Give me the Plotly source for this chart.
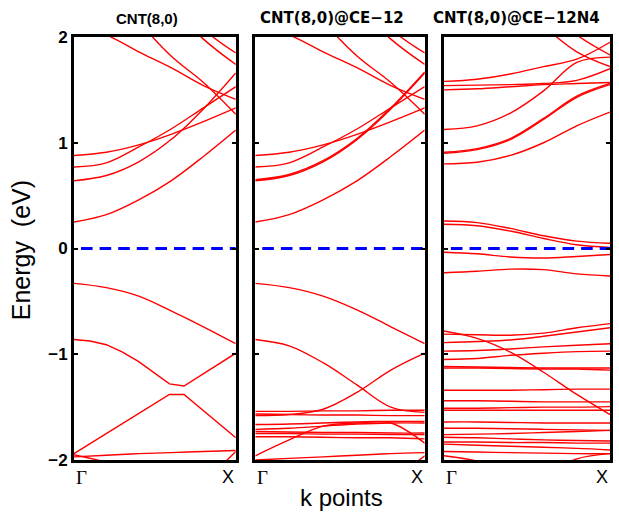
import plotly.graph_objects as go

# ---------------- data ----------------
K = [0.0, 0.2, 0.4, 0.6, 0.8, 1.0]

panel_titles = ["CNT(8,0)", "CNT(8,0)@CE\u221212", "CNT(8,0)@CE\u221212N4"]
y_tick_vals = [-2, -1, 0, 1, 2]
y_tick_text = ["\u22122", "\u22121", "0", "1", "2"]
k_labels = ["\u0393", "X"]
fermi_level = 0.0

# Panel 1: CNT(8,0)
cnt80_conduction = [
    [0.25, 0.32, 0.46, 0.64, 0.87, 1.12],
    [0.64, 0.69, 0.82, 1.03, 1.32, 1.66],
    [0.77, 0.81, 0.96, 1.13, 1.33, 1.53],
    [0.88, 0.91, 0.98, 1.08, 1.20, 1.33],
    [2.12, 2.02, 1.86, 1.71, 1.54, 1.41],
    [2.90, 2.55, 2.15, 1.82, 1.57, 1.27],
    [3.20, 2.90, 2.60, 2.30, 1.98, 1.74],
    [3.50, 3.20, 2.85, 2.50, 2.08, 1.85],
]
cnt80_valence = [
    [-0.33, -0.37, -0.45, -0.59, -0.74, -0.90],
    [-1.97, -1.955, -1.94, -1.93, -1.92, -1.91],
    [-1.95, -2.02, -2.10, -2.20, -2.30, -2.40],
    [-3.00, -2.80, -2.60, -2.40, -2.20, -1.92],
]
# anticrossing bands (sharp kinks, drawn straight)
cnt80_v2_k = [0.0, 0.1, 0.2, 0.3, 0.4, 0.5, 0.59, 0.68, 1.0]
cnt80_v2 = [-0.86, -0.875, -0.91, -0.98, -1.07, -1.18, -1.28, -1.30, -0.99]
cnt80_v3_k = [0.0, 0.59, 0.68, 1.0]
cnt80_v3 = [-1.94, -1.38, -1.38, -1.79]

# Panel 2: CNT(8,0)@CE-12
ce12_conduction = [
    [0.25, 0.32, 0.46, 0.64, 0.87, 1.12],
    [0.64, 0.69, 0.82, 1.03, 1.32, 1.66],
    [0.65, 0.70, 0.83, 1.04, 1.33, 1.67],
    [0.77, 0.81, 0.96, 1.13, 1.33, 1.53],
    [0.88, 0.91, 0.98, 1.08, 1.20, 1.33],
    [2.12, 2.02, 1.86, 1.71, 1.54, 1.41],
    [2.90, 2.55, 2.15, 1.82, 1.57, 1.27],
    [3.20, 2.90, 2.60, 2.30, 1.98, 1.74],
    [3.50, 3.20, 2.85, 2.50, 2.08, 1.85],
]
ce12_valence = [
    [-0.33, -0.37, -0.45, -0.58, -0.74, -0.90],
    [-0.86, -0.92, -1.08, -1.29, -1.50, -1.55],
    [-1.58, -1.57, -1.52, -1.36, -1.15, -0.99],
    [-1.54, -1.54, -1.535, -1.535, -1.53, -1.53],
    [-1.565, -1.57, -1.575, -1.575, -1.58, -1.58],
    [-1.665, -1.66, -1.65, -1.64, -1.635, -1.635],
    [-1.71, -1.70, -1.68, -1.66, -1.65, -1.65],
    [-1.73, -1.735, -1.74, -1.74, -1.745, -1.745],
    [-1.75, -1.75, -1.755, -1.755, -1.76, -1.76],
    [-1.78, -1.78, -1.785, -1.79, -1.79, -1.80],
    [-1.96, -1.81, -1.68, -1.65, -1.65, -1.84],
    [-2.00, -1.985, -1.97, -1.955, -1.94, -1.93],
    [-3.00, -2.80, -2.60, -2.40, -2.20, -1.96],
]

# Panel 3: CNT(8,0)@CE-12N4
ce12n4_conduction = [
    [0.26, 0.245, 0.19, 0.12, 0.07, 0.05],
    [0.23, 0.215, 0.165, 0.095, 0.035, 0.01],
    [0.80, 0.815, 0.88, 1.00, 1.16, 1.29],
    [0.90, 0.935, 1.03, 1.22, 1.43, 1.55],
    [0.91, 0.945, 1.04, 1.23, 1.44, 1.56],
    [1.125, 1.16, 1.28, 1.49, 1.76, 1.81],
    [1.50, 1.51, 1.53, 1.55, 1.56, 1.57],
    [1.54, 1.545, 1.55, 1.56, 1.59, 1.70],
    [1.58, 1.60, 1.65, 1.72, 1.79, 1.95],
    [2.85, 2.60, 2.35, 2.10, 1.86, 1.72],
    [3.20, 2.90, 2.60, 2.30, 2.02, 1.83],
]
ce12n4_valence = [
    [-0.035, -0.05, -0.08, -0.09, -0.075, -0.057],
    [-0.23, -0.215, -0.195, -0.20, -0.24, -0.26],
    [-0.81, -0.815, -0.82, -0.80, -0.75, -0.71],
    [-0.89, -0.88, -0.865, -0.83, -0.79, -0.75],
    [-0.97, -0.965, -0.95, -0.93, -0.915, -0.90],
    [-1.05, -1.04, -1.01, -0.99, -0.975, -0.97],
    [-0.78, -0.85, -0.98, -1.17, -1.38, -1.57],
    [-1.115, -1.12, -1.125, -1.13, -1.13, -1.13],
    [-1.13, -1.13, -1.135, -1.14, -1.14, -1.15],
    [-1.34, -1.34, -1.34, -1.335, -1.33, -1.33],
    [-1.44, -1.44, -1.445, -1.45, -1.45, -1.45],
    [-1.51, -1.51, -1.505, -1.50, -1.50, -1.495],
    [-1.53, -1.53, -1.53, -1.53, -1.53, -1.53],
    [-1.64, -1.64, -1.645, -1.65, -1.65, -1.65],
    [-1.70, -1.70, -1.705, -1.71, -1.715, -1.72],
    [-1.76, -1.755, -1.75, -1.74, -1.73, -1.72],
    [-1.785, -1.79, -1.80, -1.81, -1.815, -1.82],
    [-1.83, -1.83, -1.835, -1.835, -1.84, -1.84],
    [-1.85, -1.86, -1.87, -1.88, -1.89, -1.905],
    [-1.92, -1.925, -1.93, -1.935, -1.94, -1.94],
    [-1.96, -2.01, -2.10, -2.20, -2.30, -2.40],
    [-2.80, -2.60, -2.40, -2.15, -1.99, -1.94],
]

# ---------------- figure ----------------
RED = "#FF0000"
BAND_W = 1.4
fig = go.Figure()

def add_band(x, y, axis_idx, shape="spline"):
    sfx = "" if axis_idx == 1 else str(axis_idx)
    fig.add_trace(go.Scatter(
        x=x, y=y, mode="lines", xaxis="x" + sfx, yaxis="y" + sfx,
        line=dict(color=RED, width=BAND_W, shape=shape, smoothing=1.0),
        hoverinfo="skip", showlegend=False))

panels = [
    (cnt80_conduction + cnt80_valence, 1),
    (ce12_conduction + ce12_valence, 2),
    (ce12n4_conduction + ce12n4_valence, 3),
]
for bands, idx in panels:
    for b in bands:
        add_band(K, b, idx)
add_band(cnt80_v2_k, cnt80_v2, 1, shape="linear")
add_band(cnt80_v3_k, cnt80_v3, 1, shape="linear")

# Fermi level dashed line
for idx in (1, 2, 3):
    sfx = "" if idx == 1 else str(idx)
    fig.add_trace(go.Scatter(
        x=[K[0], K[-1]], y=[fermi_level, fermi_level], mode="lines",
        xaxis="x" + sfx, yaxis="y" + sfx,
        line=dict(color="#0000FF", width=3, dash="0px,7px,11.6px,0px"),
        hoverinfo="skip", showlegend=False))

L, R, T, B = 74, 6, 37, 55
W, H = 619, 515
PW = W - L - R
PH = H - T - B

def px_to_xpaper(px):
    return (px - L) / PW

def py_to_ypaper(py):
    return (H - B - py) / PH

domains = [
    [0.0, px_to_xpaper(236.7)],
    [px_to_xpaper(256.3), px_to_xpaper(426.7)],
    [px_to_xpaper(446.0), 1.0],
]

axis_common = dict(showline=True, linecolor="black", linewidth=3,
                   showgrid=False, zeroline=False)

layout = dict(
    width=W, height=H,
    margin=dict(l=L, r=R, t=T, b=B, pad=0),
    paper_bgcolor="white", plot_bgcolor="white",
    showlegend=False,
    font=dict(family="Liberation Sans", color="black"),
)
for i in range(3):
    sfx = "" if i == 0 else str(i + 1)
    layout["xaxis" + sfx] = dict(
        domain=domains[i], range=[K[0], K[-1]], anchor="y" + sfx,
        showticklabels=False, ticks="", fixedrange=True, mirror=True,
        **axis_common)
    yax = dict(
        domain=[0, 1], range=[-2, 2], anchor="x" + sfx,
        tickvals=y_tick_vals, ticks="inside", ticklen=4, tickwidth=2,
        tickcolor="black", fixedrange=True, mirror="ticks", **axis_common)
    if i == 0:
        yax.update(ticktext=y_tick_text, showticklabels=True,
                   tickfont=dict(family="Liberation Sans", size=17,
                                 color="black", weight="bold"))
    else:
        yax.update(showticklabels=False)
    layout["yaxis" + sfx] = yax

fig.update_layout(**layout)

annotations = []
title_centers = [147.0, 333.0, 519.0]
title_fonts = [dict(family="Liberation Sans", size=15, weight="bold", color="black"),
               dict(family="DejaVu Sans", size=15, weight="bold", color="black"),
               dict(family="DejaVu Sans", size=15, weight="bold", color="black")]
for i in range(3):
    annotations.append(dict(
        text=panel_titles[i], xref="paper", yref="paper",
        x=px_to_xpaper(title_centers[i]), y=py_to_ypaper(18),
        xanchor="center", yanchor="middle", showarrow=False,
        font=title_fonts[i]))
    xr = "x domain" if i == 0 else "x%d domain" % (i + 1)
    annotations.append(dict(
        text=k_labels[0], xref=xr, yref="paper", x=0, y=py_to_ypaper(477),
        xanchor="left", yanchor="middle", showarrow=False,
        font=dict(family="Liberation Serif", size=19, color="black")))
    annotations.append(dict(
        text=k_labels[1], xref=xr, yref="paper", x=1, y=py_to_ypaper(477),
        xanchor="right", yanchor="middle", showarrow=False,
        font=dict(family="Liberation Sans", size=18, color="black")))

annotations.append(dict(
    text="Energy  (eV)", xref="paper", yref="paper",
    x=px_to_xpaper(21), y=py_to_ypaper(250), textangle=-90,
    xanchor="center", yanchor="middle", showarrow=False,
    font=dict(family="Liberation Sans", size=25, color="black")))
annotations.append(dict(
    text="k points", xref="paper", yref="paper",
    x=px_to_xpaper(343), y=py_to_ypaper(498),
    xanchor="center", yanchor="middle", showarrow=False,
    font=dict(family="Liberation Sans", size=24, color="black")))

fig.update_layout(annotations=annotations)
fig.write_html("out.html",
               config={"displayModeBar": False, "staticPlot": True},
               post_script="document.body.style.margin='0px';"
                           "document.body.style.overflow='hidden';")
